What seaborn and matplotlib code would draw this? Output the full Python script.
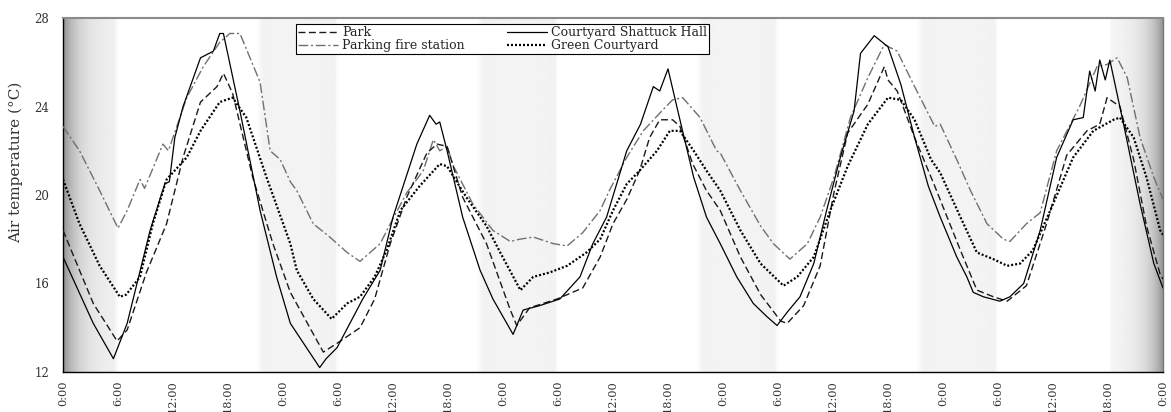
import numpy as np
import pandas as pd
import matplotlib
matplotlib.use("Agg")
import matplotlib.pyplot as plt
import seaborn as sns

# hours since 0:00 of the first day, air temperature in degC
park_h = [0, 3.3, 5.9, 7, 9.1, 11.3, 13.1, 15, 16.8, 17.5, 18.5, 20.7, 22.9, 24.8,
          28.4, 29.9, 32.4, 34, 35.7, 37.5, 39.7, 40.8, 41.9, 43.6, 46.2, 48.8,
          49.5, 50.9, 53.9, 56.7, 58.6, 60, 61.5, 62.9, 64, 65.1, 66.5, 67.3, 68.7, 70.2,
          71.7, 73.9, 76.1, 78.3, 79, 80.8, 82.6, 84.1, 85.6, 87.8, 89.6, 90, 91, 92.9, 95.1,
          97.9, 99.7, 101.5, 103, 105.1, 107.3, 109.5, 111.7, 113.1, 113.9, 115.3, 116.8,
          118.2, 119.7, 120]
park_t = [18.4, 15.1, 13.4, 13.9, 16.5, 18.7, 21.7, 24.2, 24.9, 25.5, 24.6, 20.8, 17.8, 15.6,
          12.9, 13.3, 14.0, 15.3, 17.8, 19.9, 21.9, 22.3, 22.2, 19.9, 17.8, 14.8,
          14.1, 14.9, 15.3, 15.8, 17.2, 18.7, 19.8, 21.1, 22.6, 23.4, 23.4, 23.1, 21.4, 20.2,
          19.3, 17.2, 15.5, 14.3, 14.2, 15.0, 16.8, 20.1, 22.8, 24.1, 25.8, 25.2, 24.7, 22.6, 20.4,
          17.5, 15.7, 15.4, 15.2, 15.9, 18.7, 21.8, 22.9, 23.2, 24.4, 24.0, 21.6,
          18.6, 16.4, 16.2]

fire_h = [0, 1.8, 4, 6, 7, 8.4, 8.9, 10.3, 10.9, 11.5, 13.5, 15.3, 17.1, 18.2, 19.3, 21.5,
          22.6, 23.7, 24.8, 25.5, 27.3, 29.1, 31, 32.4, 34.6, 35.7, 37.5, 39.3, 40.4, 41.1,
          41.9, 42.6, 44.7, 46.9, 48.8, 49.8, 51.3, 53.5, 55, 56.7, 58.6, 59.6, 61.5, 63.3,
          65.1, 66.5, 67.6, 69.5, 71.3, 71.7, 73.9, 76.1, 77.5, 79.3, 81.2, 82.6, 84.1, 85.9,
          87.8, 89.6, 91, 92.9, 95.1, 95.7, 97.5, 99, 100.8, 102.6, 103.3, 105.1, 106.6,
          108.4, 110.9, 112.8, 113.9, 115, 116.1, 117.5, 119, 120]
fire_t = [23.1, 22.0, 20.2, 18.5, 19.3, 20.7, 20.3, 21.7, 22.3, 22.0, 24.4, 25.8, 26.9, 27.3,
          27.3, 25.1, 22.0, 21.6, 20.6, 20.2, 18.7, 18.1, 17.4, 17.0, 17.8, 18.7, 20.1, 21.1,
          22.5, 22.0, 22.2, 21.3, 19.6, 18.4, 17.9, 18.0, 18.1, 17.8, 17.7, 18.3, 19.3, 20.2,
          21.7, 22.9, 23.7, 24.3, 24.4, 23.5, 22.0, 21.9, 20.2, 18.6, 17.8, 17.1, 17.8, 19.0,
          20.8, 23.5, 25.3, 26.8, 26.5, 24.9, 23.1, 23.2, 21.6, 20.2, 18.7, 18.0, 17.9, 18.7,
          19.2, 22.0, 24.0, 25.8, 25.9, 26.2, 25.3, 22.6, 20.8, 19.8]

shattuck_h = [0, 3.3, 5.5, 7, 9.5, 11.1, 11.6, 12.2, 13.1, 15, 16.4, 17.1, 17.5, 19.3, 21.5,
              23.3, 24.8, 28, 28.7, 29.9, 32.7, 34.6, 36, 38.6, 40, 40.7, 41.1, 41.9, 43.6,
              45.5, 46.9, 49.1, 50.2, 52, 54.2, 56.4, 57.8, 59.3, 60.4, 61.5, 63, 64.4, 65.1,
              66, 67.3, 68.8, 70.2, 71.7, 73.5, 75.3, 76.8, 77.9, 79, 80.4, 81.9, 83.3, 84.8,
              86.3, 87, 88.5, 90, 91.4, 92.9, 94.4, 95.7, 97.5, 98.6, 99.3, 100.4, 102.2,
              103.3, 104.8, 106.6, 108.4, 110.2, 111.3, 112, 112.6, 113.1, 113.7, 114.2,
              115.7, 117.5, 119, 120]
shattuck_t = [17.2, 14.2, 12.6, 14.2, 18.4, 20.5, 20.6, 22.6, 24.0, 26.2, 26.5, 27.3, 27.3,
              23.8, 19.3, 16.3, 14.2, 12.2, 12.6, 13.1, 15.3, 16.6, 19.0, 22.3, 23.6, 23.2,
              23.3, 22.0, 19.0, 16.6, 15.3, 13.7, 14.8, 15.0, 15.3, 16.3, 17.8, 19.0, 20.5,
              22.0, 23.2, 24.9, 24.7, 25.7, 23.4, 20.8, 19.0, 17.8, 16.3, 15.1, 14.5, 14.1,
              14.7, 15.4, 16.9, 19.3, 21.7, 23.8, 26.4, 27.2, 26.7, 25.0, 22.6, 20.4, 19.0,
              17.2, 16.3, 15.6, 15.4, 15.2, 15.4, 16.0, 18.4, 21.7, 23.4, 23.5, 25.6, 24.7,
              26.1, 25.2, 26.1, 23.2, 19.6, 16.9, 15.8]

green_h = [0, 1.8, 4, 6.2, 6.9, 8.4, 9.8, 11.3, 13.5, 15, 17.1, 18.5, 20, 22.2, 24.8, 25.5,
           27.3, 29.3, 31, 32.4, 34, 35.3, 36.8, 38.9, 41.1, 41.9, 44, 46.2, 47.7, 49.9,
           51.3, 53.1, 55, 57.1, 58.6, 60, 61.5, 62.9, 64.8, 66.2, 67.3, 68.8, 70.2, 71.7,
           73.9, 76.1, 78.6, 80.1, 81.9, 83.7, 85.6, 87.8, 90, 91.4, 92.9, 94.7, 95.7, 97.9,
           99.7, 101.5, 103, 104.4, 105.8, 107.7, 110.2, 112.4, 114.6, 115.3, 116.8, 118.2,
           119.7, 120]
green_t = [20.7, 18.7, 16.8, 15.4, 15.5, 16.3, 18.7, 20.7, 21.7, 22.9, 24.2, 24.4, 23.5, 20.8,
           17.8, 16.6, 15.3, 14.4, 15.1, 15.4, 16.3, 17.5, 19.3, 20.4, 21.4, 21.3, 19.9, 18.6,
           17.4, 15.7, 16.3, 16.5, 16.8, 17.4, 18.0, 19.3, 20.5, 21.1, 22.0, 22.9, 22.9, 22.0,
           21.1, 20.2, 18.4, 16.9, 15.9, 16.3, 17.2, 19.3, 21.3, 23.2, 24.4, 24.3, 23.4, 21.6,
           21.0, 19.0, 17.4, 17.1, 16.8, 16.9, 17.5, 19.3, 21.7, 22.9, 23.4, 23.5, 22.6, 20.8,
           18.4, 18.2]

sns.set_style("white")
plt.rcParams["font.family"] = ["DejaVu Serif"]

fig = plt.figure(figsize=(11.71, 4.12), dpi=100)
ax = fig.add_axes([63 / 1171, 1 - 372 / 412, 1100 / 1171, 354 / 412])

# night / twilight shading behind the traces (soft light bands, darker ends)
hb = np.linspace(0, 120, 4801)
shade = np.ones_like(hb)
for start in (21.1, 45.1, 69.1, 93.1):
    end = start + 8.9
    m = (hb >= start) & (hb <= end)
    ramp_in = np.clip((hb[m] - start) / 0.8, 0, 1)
    ramp_out = np.clip((end - hb[m]) / 0.35, 0, 1)
    depth = 0.055 - 0.012 * np.sin(np.pi * (hb[m] - start) / 8.9)
    shade[m] = 1 - depth * np.minimum(ramp_in, ramp_out)
m = hb < 6
shade[m] = 0.56 + 0.39 * (1 - np.exp(-hb[m] / 1.6))
m = (hb >= 5.6) & (hb < 6.2)
shade[m] = np.maximum(shade[m], 0.95 + 0.05 * (hb[m] - 5.6) / 0.6)
m = hb > 114.3
shade[m] = 0.58 + 0.39 * (1 - np.exp(-(120 - hb[m]) / 1.6))
ax.imshow(shade[np.newaxis, :], extent=[0, 120, 12, 28], aspect="auto", cmap="gray",
          vmin=0, vmax=1, interpolation="bilinear", zorder=0)

styles = [
    ("Parking fire station", fire_h, fire_t, dict(color="#707070", linewidth=1.0, linestyle=(0, (7, 2, 1.5, 2)))),
    ("Park", park_h, park_t, dict(color="#1a1a1a", linewidth=1.0, linestyle=(0, (5, 2.5)))),
    ("Green Courtyard", green_h, green_t, dict(color="black", linewidth=1.6, linestyle=(0, (0.9, 0.9)))),
    ("Courtyard Shattuck Hall", shattuck_h, shattuck_t, dict(color="black", linewidth=0.9, linestyle="-")),
]
handles = {}
for name, h, t, kw in styles:
    df = pd.DataFrame({"hour": h, "temp": t})
    sns.lineplot(data=df, x="hour", y="temp", ax=ax, estimator=None, sort=False, zorder=3, **kw)
    handles[name] = ax.lines[-1]

ax.set_xlim(0, 120)
ax.set_ylim(12, 28)
ax.set_yticks([12, 16, 20, 24, 28])
ticks = np.arange(0, 121, 6)
ax.set_xticks(ticks)
ax.set_xticklabels([f"{h % 24}:00" for h in ticks], rotation=90)
ax.tick_params(axis="x", direction="in", length=5, width=0.8, pad=6, labelsize=8.2, labelcolor="#333333")
ax.tick_params(axis="y", direction="out", length=3, width=0.8, pad=7, labelsize=8.5, labelcolor="#333333")
ax.set_xlabel("")
ax.set_ylabel("Air temperature (\u00b0C)", fontsize=11, color="#333333")
ax.yaxis.set_label_coords(-0.0364, 0.592)

for side in ("left", "bottom"):
    ax.spines[side].set_color("black")
    ax.spines[side].set_linewidth(1.0)
ax.spines["top"].set_color("#8a8a8a")
ax.spines["top"].set_linewidth(1.5)
ax.spines["right"].set_color("#777777")
ax.spines["right"].set_linewidth(1.0)

order = ["Park", "Parking fire station", "Courtyard Shattuck Hall", "Green Courtyard"]
leg = ax.legend([handles[n] for n in order], order, ncol=2, loc="upper left",
                bbox_to_anchor=(0.212, 0.982), fontsize=9, frameon=True, fancybox=False,
                edgecolor="black", framealpha=1, handlelength=3.2, handletextpad=0.3,
                labelspacing=0.0, borderpad=0.15, columnspacing=3.4, borderaxespad=0)
leg.get_frame().set_linewidth(0.8)

fig.savefig("out.png", dpi=100)
